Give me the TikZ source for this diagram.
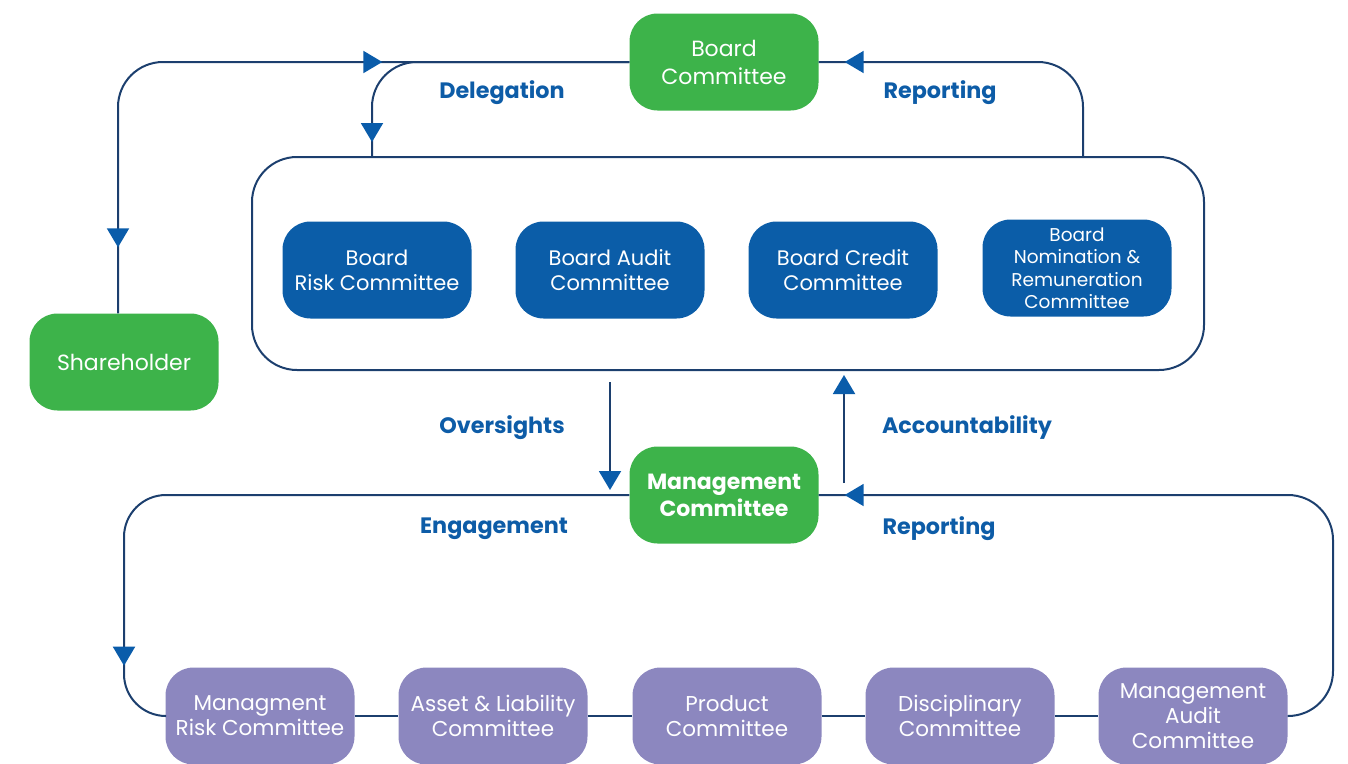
\documentclass[tikz,border=0pt]{standalone}
\usepackage{fontspec}
\setmainfont{Poppins}
\usetikzlibrary{arrows.meta,decorations.markings}
\definecolor{boardgreen}{RGB}{61,179,74}
\definecolor{boardblue}{RGB}{11,93,168}
\definecolor{mgmtpurple}{RGB}{140,135,191}
\definecolor{linenavy}{RGB}{28,63,110}
\definecolor{tipblue}{RGB}{10,92,170}
\definecolor{labelblue}{RGB}{13,92,167}

\begin{document}
\begin{tikzpicture}[x=1pt,y=-1pt,
  box/.style={rounded corners=28pt,minimum width=189pt,minimum height=97pt,inner sep=2pt,
    text=white,align=center,font=\fontsize{21}{25}\selectfont},
  gbox/.style={box,fill=boardgreen,font=\fontsize{22}{28}\selectfont},
  bbox/.style={box,fill=boardblue},
  pbox/.style={box,fill=mgmtpurple,font=\fontsize{21.5}{25}\selectfont},
  frame/.style={draw=linenavy,line width=2pt,rounded corners=45pt,minimum width=952pt,minimum height=213pt},
  conn/.style={draw=linenavy,line width=2pt},
  lbl/.style={text=labelblue,font=\bfseries\fontsize{22.3}{26}\selectfont},
  tipat/.style={postaction={decorate,decoration={markings,
    mark=at position #1 with {\arrow{Triangle[length=19pt,width=22pt,color=tipblue]}}}}},
  tipback/.style={postaction={decorate,decoration={markings,
    mark=at position #1 with {\arrowreversed{Triangle[length=19pt,width=22pt,color=tipblue]}}}}},
  endtip/.style={-{Triangle[length=19pt,width=22pt,color=tipblue]}},
  ]
\useasboundingbox (0,0) rectangle (1348,763);

\node[gbox] (bc) at (724,62) {Board\\Committee};
\node[gbox] (sh) at (124,362) {Shareholder};
\node[frame] (board) at (728,263.5) {};
\node[bbox] (brc) at (377,270) {Board\\Risk Committee};
\node[bbox] (bac) at (610,270) {Board Audit\\Committee};
\node[bbox] (bcc) at (843,270) {Board Credit\\Committee};
\node[bbox,font=\fontsize{18.5}{22.5}\selectfont] (bnr) at (1077,268) {Board\\Nomination \&\\Remuneration\\Committee};
\node[gbox,font=\bfseries\fontsize{22}{27}\selectfont] (mc) at (724,495) {Management\\Committee};
\node[pbox] (mrc) at (260,716) {Managment\\Risk Committee};
\node[pbox] (alc) at (493,716) {Asset \& Liability\\Committee};
\node[pbox] (pc) at (727,716) {Product\\Committee};
\node[pbox] (dc) at (960,716) {Disciplinary\\Committee};
\node[pbox] (mac) at (1193,716) {Management\\Audit\\Committee};

\coordinate (ovtop) at (610,382);
\coordinate (ovend) at (610,490);
\coordinate (acbot) at (844,483);
\coordinate (acend) at (844,375);
\coordinate (engturn) at (124,716);
\coordinate (repturn) at (1333,716);

\draw[conn,rounded corners=45pt,tipback=66pt,tipat=-247pt] ([xshift=-6pt]sh.north) |- (bc.west);
\draw[conn,rounded corners=45pt,tipat=-14pt] (bc.west) -| ([xshift=-5pt]brc.north |- board.north);
\draw[conn,rounded corners=45pt,tipat=-26pt] ([xshift=6pt]bnr.north |- board.north) |- (bc.east);
\draw[conn,endtip] (ovtop) -- (ovend);
\draw[conn,endtip] (acbot) -- (acend);
\draw[conn,rounded corners=42pt,tipat=-75pt] (mc.west) -| (engturn) -- (mrc.west);
\draw[conn,rounded corners=45pt,tipat=-26pt] (mac.east) -- (repturn) |- (mc.east);
\draw[conn] (mrc) -- (alc) -- (pc) -- (dc) -- (mac);

\node[lbl] (dlgl) at (502,93) {Delegation};
\node[lbl] (rptl) at (940,93) {Reporting};
\node[lbl] (ovsl) at (502,428) {Oversights};
\node[lbl] (accl) at (967,428) {Accountability};
\node[lbl] (engl) at (494,529) {Engagement};
\node[lbl] (repl) at (939,529) {Reporting};
\end{tikzpicture}
\end{document}
